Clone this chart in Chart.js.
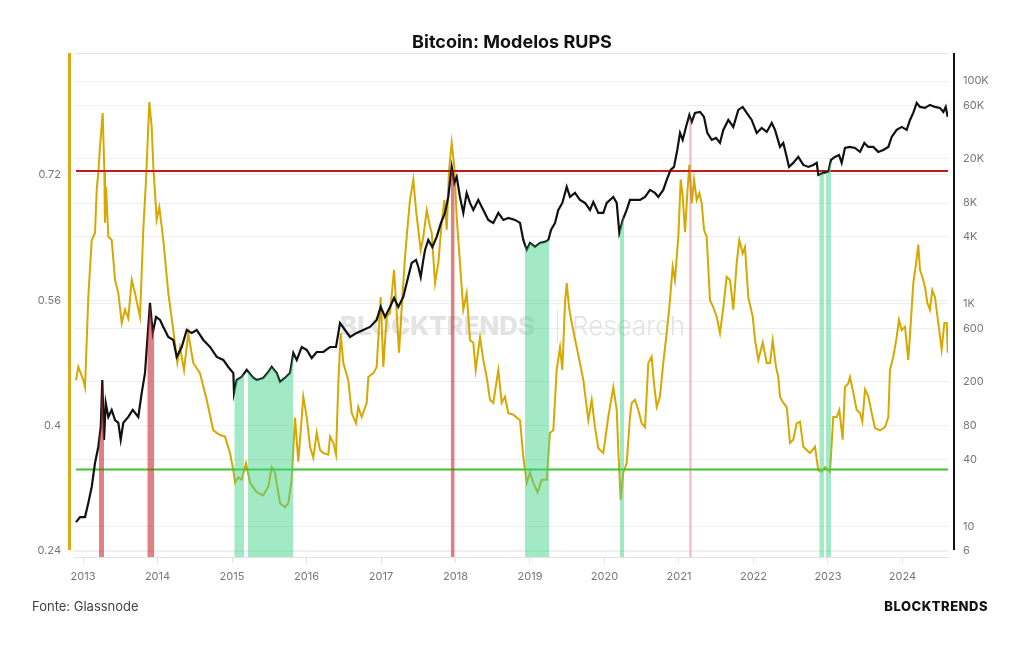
<!DOCTYPE html>
<html><head><meta charset="utf-8">
<script src="https://cdn.jsdelivr.net/npm/chart.js@4.4.1/dist/chart.umd.min.js"></script>
<style>
html,body{margin:0;padding:0;background:#fff;}
#wrap{position:relative;width:1024px;height:645px;overflow:hidden;}
#title{position:absolute;left:0;width:1024px;top:31px;text-align:center;font:700 18px Inter,"Noto Sans",sans-serif;color:#111;line-height:22px;}
#src{position:absolute;left:32px;top:598px;font:400 13px Inter,"Noto Sans",sans-serif;color:#444;line-height:17px;}
#brand{position:absolute;right:36px;top:598px;font:800 13px Inter,"Noto Sans",sans-serif;letter-spacing:0.5px;color:#111;line-height:17px;}
canvas{position:absolute;left:0;top:0;}
</style></head>
<body>
<div id="wrap">
<canvas id="c" width="1024" height="645"></canvas>
<div id="title">Bitcoin: Modelos RUPS</div>
<div id="src">Fonte: Glassnode</div>
<div id="brand">BLOCKTRENDS</div>
</div>
<script>
const years = [2013,2014,2015,2016,2017,2018,2019,2020,2021,2022,2023,2024];
const leftTicks = [0.24,0.4,0.56,0.72];
const rightTicks = [6,10,40,80,200,600,1000,4000,8000,20000,60000,100000];
const redLevel = 0.725;
const greenLevel = 0.344;

const rupsX = [2012.906,2012.937,2013.004,2013.027,2013.071,2013.117,2013.161,2013.184,2013.205,2013.228,2013.264,2013.286,2013.295,2013.309,2013.340,2013.385,2013.430,2013.474,2013.520,2013.564,2013.608,2013.654,2013.698,2013.765,2013.809,2013.846,2013.890,2013.922,2013.944,2013.989,
2014.024,2014.078,2014.145,2014.212,2014.266,2014.302,2014.356,2014.413,2014.480,2014.570,2014.660,2014.749,2014.839,2014.906,2014.973,
2015.018,2015.040,2015.085,2015.130,2015.188,2015.242,2015.332,2015.420,2015.487,2015.533,2015.577,2015.644,2015.711,2015.756,2015.801,2015.846,2015.890,2015.957,
2016.003,2016.047,2016.091,2016.137,2016.181,2016.226,2016.293,2016.316,2016.360,2016.396,2016.427,2016.459,2016.494,2016.561,2016.607,2016.664,2016.695,2016.741,2016.808,2016.830,2016.897,2016.942,2016.996,
2017.031,2017.077,2017.121,2017.175,2017.211,2017.242,2017.278,2017.322,2017.353,2017.389,2017.434,2017.470,2017.501,2017.533,2017.568,2017.614,2017.658,2017.681,2017.725,2017.770,2017.815,2017.850,2017.882,2017.913,2017.949,2017.984,
2018.016,2018.060,2018.105,2018.150,2018.195,2018.239,2018.271,2018.329,2018.373,2018.419,2018.463,2018.507,2018.575,2018.620,2018.664,2018.709,2018.776,2018.866,2018.910,2018.956,
2019.000,2019.044,2019.103,2019.157,2019.224,2019.268,2019.313,2019.358,2019.403,2019.434,2019.470,2019.493,2019.524,2019.560,2019.627,2019.671,2019.716,2019.783,2019.828,2019.872,2019.917,2019.984,
2020.051,2020.118,2020.164,2020.185,2020.217,2020.252,2020.298,2020.342,2020.365,2020.409,2020.454,2020.499,2020.544,2020.588,2020.633,2020.664,2020.701,2020.745,2020.789,2020.835,2020.879,2020.915,2020.946,2020.991,
2021.023,2021.050,2021.081,2021.112,2021.139,2021.171,2021.202,2021.238,2021.273,2021.305,2021.336,2021.372,2021.416,2021.461,2021.506,2021.550,2021.595,2021.640,2021.685,2021.729,2021.775,2021.810,2021.855,2021.886,2021.930,2021.990,
2022.021,2022.065,2022.124,2022.178,2022.222,2022.258,2022.302,2022.333,2022.356,2022.400,2022.446,2022.490,2022.534,2022.580,2022.624,2022.669,2022.714,2022.758,2022.826,2022.870,2022.916,2022.960,
2023.027,2023.071,2023.117,2023.152,2023.197,2023.228,2023.273,2023.295,2023.340,2023.385,2023.430,2023.461,2023.497,2023.542,2023.587,2023.631,2023.698,2023.765,2023.810,2023.832,2023.877,2023.922,2023.953,2023.989,
2024.034,2024.078,2024.114,2024.145,2024.177,2024.212,2024.235,2024.266,2024.302,2024.333,2024.369,2024.400,2024.436,2024.481,2024.526,2024.562,2024.594,2024.608];
const rupsY = [0.458,0.475,0.458,0.449,0.564,0.637,0.646,0.701,0.723,0.756,0.799,0.726,0.659,0.705,0.641,0.637,0.586,0.569,0.531,0.548,0.537,0.586,0.569,0.539,0.650,0.714,0.813,0.781,0.730,0.663,
0.679,0.637,0.569,0.522,0.480,0.500,0.471,0.518,0.480,0.467,0.433,0.394,0.388,0.386,0.365,
0.343,0.327,0.334,0.331,0.352,0.327,0.315,0.311,0.322,0.347,0.340,0.301,0.296,0.301,0.331,0.410,0.354,0.437,
0.411,0.373,0.359,0.391,0.369,0.365,0.363,0.386,0.378,0.363,0.454,0.518,0.480,0.458,0.416,0.403,0.424,0.411,0.429,0.462,0.467,0.475,0.564,
0.475,0.539,0.544,0.599,0.544,0.493,0.551,0.615,0.650,0.688,0.714,0.675,0.650,0.624,0.641,0.675,0.654,0.646,0.582,0.608,0.659,0.688,0.650,0.726,0.761,0.730,
0.666,0.608,0.548,0.569,0.509,0.506,0.471,0.513,0.484,0.462,0.433,0.429,0.471,0.429,0.437,0.416,0.414,0.407,0.360,0.327,
0.340,0.327,0.315,0.331,0.331,0.391,0.394,0.471,0.500,0.471,0.557,0.582,0.551,0.531,0.500,0.480,0.458,0.407,0.433,0.398,0.371,0.365,
0.411,0.449,0.420,0.369,0.305,0.340,0.352,0.411,0.429,0.433,0.420,0.403,0.398,0.480,0.488,0.454,0.424,0.437,0.480,0.518,0.560,0.603,0.586,0.641,
0.714,0.692,0.647,0.697,0.733,0.684,0.714,0.688,0.697,0.684,0.650,0.641,0.560,0.551,0.539,0.518,0.551,0.590,0.586,0.548,0.608,0.637,0.620,0.628,0.564,0.539,
0.509,0.484,0.506,0.480,0.480,0.509,0.475,0.462,0.437,0.429,0.424,0.378,0.382,0.403,0.405,0.373,0.369,0.365,0.373,0.343,0.341,0.347,
0.341,0.411,0.411,0.420,0.382,0.449,0.454,0.462,0.442,0.420,0.416,0.405,0.446,0.437,0.416,0.397,0.394,0.398,0.411,0.471,0.488,0.513,0.535,0.522,
0.526,0.484,0.535,0.582,0.603,0.631,0.599,0.590,0.577,0.557,0.548,0.573,0.564,0.531,0.497,0.531,0.531,0.493];

const priceX = [2012.906,2012.960,2013.027,2013.071,2013.117,2013.161,2013.205,2013.238,2013.259,2013.282,2013.305,2013.340,2013.385,2013.430,2013.474,2013.506,2013.541,2013.608,2013.667,2013.742,2013.788,2013.832,2013.863,2013.899,2013.936,2013.980,
2014.034,2014.078,2014.145,2014.212,2014.258,2014.325,2014.392,2014.459,2014.526,2014.615,2014.705,2014.795,2014.883,2014.950,
2015.018,2015.027,2015.063,2015.130,2015.197,2015.286,2015.332,2015.420,2015.487,2015.533,2015.600,2015.644,2015.711,2015.779,2015.823,2015.869,2015.936,
2016.003,2016.070,2016.137,2016.226,2016.316,2016.396,2016.450,2016.517,2016.584,2016.674,2016.762,2016.852,2016.942,2016.996,
2017.054,2017.121,2017.175,2017.232,2017.299,2017.345,2017.412,2017.470,2017.501,2017.533,2017.568,2017.591,2017.635,2017.689,2017.748,2017.805,2017.859,2017.903,2017.949,2017.984,
2018.016,2018.060,2018.105,2018.150,2018.195,2018.239,2018.306,2018.373,2018.440,2018.507,2018.575,2018.642,2018.709,2018.799,2018.866,2018.910,2018.956,
2019.000,2019.067,2019.134,2019.201,2019.246,2019.282,2019.336,2019.380,2019.434,2019.493,2019.537,2019.604,2019.671,2019.738,2019.806,2019.850,2019.917,2019.984,
2020.030,2020.118,2020.164,2020.199,2020.245,2020.298,2020.342,2020.409,2020.477,2020.544,2020.611,2020.678,2020.722,2020.789,2020.835,2020.888,2020.933,2020.977,
2021.014,2021.050,2021.094,2021.139,2021.171,2021.215,2021.282,2021.336,2021.380,2021.439,2021.497,2021.550,2021.595,2021.662,2021.729,2021.796,2021.855,2021.909,2021.976,
2022.043,2022.110,2022.178,2022.245,2022.289,2022.356,2022.400,2022.446,2022.477,2022.534,2022.601,2022.669,2022.736,2022.803,2022.849,2022.870,2022.937,
2023.004,2023.040,2023.094,2023.148,2023.184,2023.228,2023.295,2023.362,2023.430,2023.488,2023.541,2023.608,2023.675,2023.742,2023.810,2023.855,2023.922,2023.989,
2024.056,2024.101,2024.145,2024.191,2024.235,2024.302,2024.369,2024.436,2024.503,2024.548,2024.580,2024.608];
const priceY = [10.9,12.1,12.1,16.2,22.6,37.1,51.6,78,206,59.6,128,96,111,90,85,60,85,96,111,96,158,238,472,1015,546,760,
714,618,502,472,332,408,580,546,580,472,408,332,312,270,
238,158,206,220,254,215,206,215,243,270,238,198,215,238,361,312,408,
384,325,368,368,408,408,671,580,502,546,580,618,714,934,
760,934,1125,934,1149,1535,2322,2470,2137,1738,2470,3038,3736,3232,3976,5311,6531,9094,16920,12148,
13752,9094,6531,9878,8030,6948,8548,6948,5651,5311,6531,5651,5889,5651,5311,3736,3038,
3512,3232,3512,3585,3736,4595,5311,6948,8030,11185,9094,9878,8548,8030,6948,8200,6531,6531,
8030,9094,8030,4318,5651,6948,8548,8548,8548,9094,10512,9878,9094,10512,12929,15898,16920,24040,
34180,29570,38690,49610,42910,51700,52780,47590,34180,29570,30820,27790,36380,44730,38690,55010,58530,51700,44730,
34180,37910,34890,42030,36380,25590,27790,20810,16920,18380,20810,17630,16920,17630,18380,14340,14940,
15250,19560,20810,21680,18380,25060,25590,25060,23080,27790,25590,25590,23080,24040,25590,31460,36380,38690,
36380,44730,51700,63580,58530,57330,61000,58530,57330,52780,58530,47590];

// periods where RUPS is above the top line (red) / below the bottom line (green)
const redBands = [[2013.215,2013.282],[2013.863,2013.957],[2017.936,2017.989]];
const pinkBands = [[2021.138,2021.170]];
const greenBands = [[2015.031,2015.161],[2015.211,2015.823],[2018.933,2019.255],[2020.208,2020.262],[2022.883,2022.946],[2022.969,2023.040]];

const X_MIN = 2012.879, X_MAX = 2024.611;

function priceAt(x){
  for (let i=0;i<priceX.length-1;i++){
    if (x>=priceX[i] && x<=priceX[i+1]){
      const t=(x-priceX[i])/(priceX[i+1]-priceX[i]);
      return Math.exp(Math.log(priceY[i])*(1-t)+Math.log(priceY[i+1])*t);
    }
  }
  return priceY[priceY.length-1];
}
function bandData(b){
  const pts=[{x:b[0],y:priceAt(b[0])}];
  priceX.forEach((x,i)=>{ if(x>b[0]&&x<b[1]) pts.push({x:x,y:priceY[i]}); });
  pts.push({x:b[1],y:priceAt(b[1])});
  return pts;
}
function bandSet(b,color){
  return {type:'line',yAxisID:'yR',data:bandData(b),borderWidth:0,pointRadius:0,
    fill:'start',backgroundColor:color,borderColor:'rgba(0,0,0,0)',order:0};
}

const datasets = [];
redBands.forEach(b=>datasets.push(bandSet(b,'rgba(200,45,55,0.6)')));
pinkBands.forEach(b=>datasets.push(bandSet(b,'rgba(232,105,115,0.5)')));
greenBands.forEach(b=>datasets.push(bandSet(b,'rgba(70,212,140,0.5)')));
datasets.push({label:'Preço',yAxisID:'yR',data:priceX.map((x,i)=>({x:x,y:priceY[i]})),
  borderColor:'#111111',borderWidth:2.2,pointRadius:0,fill:false,order:1});
datasets.push({label:'Topo',yAxisID:'yL',data:[{x:rupsX[0],y:redLevel},{x:X_MAX,y:redLevel}],
  borderColor:'#c41a1a',borderWidth:2,pointRadius:0,fill:false,order:2});
datasets.push({label:'Fundo',yAxisID:'yL',data:[{x:rupsX[0],y:greenLevel},{x:X_MAX,y:greenLevel}],
  borderColor:'#3fc42a',borderWidth:2,pointRadius:0,fill:false,order:2});
datasets.push({label:'RUPS',yAxisID:'yL',data:rupsX.map((x,i)=>({x:x,y:rupsY[i]})),
  borderColor:'#d6a800',borderWidth:2,pointRadius:0,fill:false,order:3});

const decor = {
  id:'decor',
  beforeDatasetsDraw(chart){
    const ctx=chart.ctx, a=chart.chartArea;
    ctx.save();
    // top border line
    ctx.strokeStyle='#e6e6e6'; ctx.lineWidth=1;
    ctx.beginPath(); ctx.moveTo(a.left,a.top+0.5); ctx.lineTo(a.right,a.top+0.5); ctx.stroke();
    // watermark
    ctx.fillStyle='#e3e3e3'; ctx.textBaseline='middle';
    ctx.font='800 25px Inter';
    let w=ctx.measureText('BLOCKTRENDS').width;
    ctx.font='800 '+(25*195/w).toFixed(2)+'px Inter';
    ctx.fillText('BLOCKTRENDS',340,327);
    ctx.font='300 25px Inter';
    w=ctx.measureText('Research').width;
    ctx.font='300 '+(25*113/w).toFixed(2)+'px Inter';
    ctx.fillText('Research',572,327);
    ctx.strokeStyle='#e3e3e3'; ctx.lineWidth=1;
    ctx.beginPath(); ctx.moveTo(557.5,310); ctx.lineTo(557.5,343); ctx.stroke();
    ctx.restore();
  },
  afterDraw(chart){
    const ctx=chart.ctx, a=chart.chartArea;
    ctx.save();
    ctx.strokeStyle='#d9ab1c'; ctx.lineWidth=3;
    ctx.beginPath(); ctx.moveTo(a.left-4.5,a.top); ctx.lineTo(a.left-4.5,a.bottom-7); ctx.stroke();
    ctx.strokeStyle='#111'; ctx.lineWidth=2;
    ctx.beginPath(); ctx.moveTo(a.right+6,a.top); ctx.lineTo(a.right+6,a.bottom-7); ctx.stroke();
    ctx.restore();
  }
};

const tickFont = {family:'Inter', size:11};
new Chart(document.getElementById('c'), {
  type:'line',
  data:{datasets:datasets},
  plugins:[decor],
  options:{
    responsive:false, animation:false, devicePixelRatio:1,
    parsing:true,
    layout:{padding:{top:53,left:0,right:0,bottom:0}},
    plugins:{legend:{display:false},tooltip:{enabled:false},title:{display:false}},
    elements:{line:{tension:0}},
    scales:{
      x:{type:'linear',min:X_MIN,max:X_MAX,
        afterBuildTicks:s=>{s.ticks=years.map(v=>({value:v}));},
        afterFit:s=>{s.height=88;},
        ticks:{callback:v=>String(v),color:'#777',font:tickFont,padding:7,maxRotation:0,autoSkip:false},
        grid:{drawOnChartArea:false,drawTicks:true,tickLength:6,color:'#e2e2e2'},
        border:{display:true,color:'#e2e2e2'}},
      yL:{type:'linear',position:'left',min:0.2323,max:0.8757,
        afterBuildTicks:s=>{s.ticks=leftTicks.map(v=>({value:v}));},
        afterFit:s=>{s.width=74;},
        ticks:{callback:v=>String(v),color:'#777',font:tickFont,padding:13},
        grid:{color:'#f0f0f0',drawTicks:false},
        border:{display:false}},
      yR:{type:'logarithmic',position:'right',min:5.3,max:178500,
        afterBuildTicks:s=>{s.ticks=rightTicks.map(v=>({value:v}));},
        afterFit:s=>{s.width=76;},
        ticks:{callback:v=>(v>=1000?(v/1000)+'K':String(v)),color:'#777',font:tickFont,padding:15},
        grid:{color:'#eeeeee',drawTicks:false},
        border:{display:false}}
    }
  }
});
</script>
</body></html>
